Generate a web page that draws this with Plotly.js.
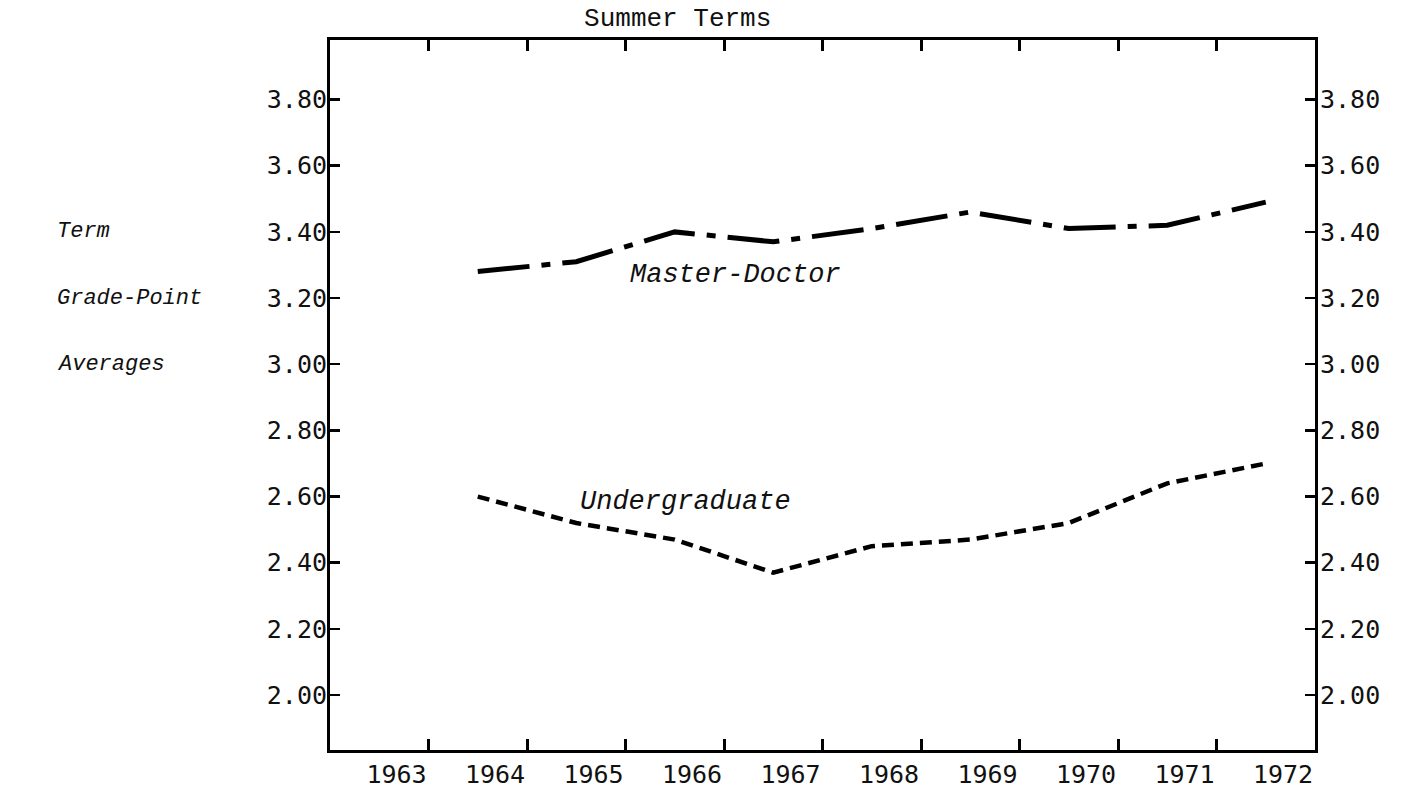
<!DOCTYPE html>
<html>
<head>
<meta charset="utf-8">
<script src="https://cdn.plot.ly/plotly-3.0.1.min.js"></script>
<style>
  html, body { margin: 0; padding: 0; background: #ffffff; }
  #chart { width: 1407px; height: 793px; }
</style>
</head>
<body>
<div id="chart"></div>
<script>
// ---- data ----
const years = [1964, 1965, 1966, 1967, 1968, 1969, 1970, 1971, 1972];
const masterDoctor = [3.28, 3.31, 3.40, 3.37, 3.41, 3.46, 3.41, 3.42, 3.49];
const undergraduate = [2.60, 2.52, 2.47, 2.37, 2.45, 2.47, 2.52, 2.64, 2.70];
const axisYears = [1963, 1964, 1965, 1966, 1967, 1968, 1969, 1970, 1971, 1972];
const yTicks = [2.00, 2.20, 2.40, 2.60, 2.80, 3.00, 3.20, 3.40, 3.60, 3.80];
const yTickLabels = ["2.00", "2.20", "2.40", "2.60", "2.80", "3.00", "3.20", "3.40", "3.60", "3.80"];
const chartTitle = "Summer Terms";
const yTitleLines = ["Term", "Grade-Point", "Averages"];
const seriesNames = ["Master-Doctor", "Undergraduate"];

// each year occupies the interval ending at its tick; points sit at interval centres
const xPos = years.map(y => y - 0.5);

const tickFont = { family: "DejaVu Sans Mono, Liberation Mono, monospace", size: 25, color: "#111" };
const italicFont = { family: "Liberation Mono, DejaVu Sans Mono, monospace", size: 27, color: "#111", style: "italic" };
const sideFont = { family: "Liberation Mono, DejaVu Sans Mono, monospace", size: 22, color: "#111", style: "italic" };

const traces = [
  {
    x: xPos, y: masterDoctor, name: seriesNames[0], type: "scatter", mode: "lines",
    line: { color: "#000", width: 5, dash: "52px,12px,9px,12px" },
    xaxis: "x", yaxis: "y", hoverinfo: "skip"
  },
  {
    x: xPos, y: undergraduate, name: seriesNames[1], type: "scatter", mode: "lines",
    line: { color: "#000", width: 4.5, dash: "12px,7px" },
    xaxis: "x", yaxis: "y", hoverinfo: "skip"
  }
];

const yRange = [1.834, 3.98];

const layout = {
  width: 1407, height: 793,
  margin: { l: 330, r: 92, t: 40, b: 43, pad: 0 },
  paper_bgcolor: "#ffffff", plot_bgcolor: "#ffffff",
  showlegend: false,
  title: {
    text: chartTitle,
    font: { family: "Liberation Mono, DejaVu Sans Mono, monospace", size: 26, color: "#111" },
    x: 0.353, xref: "paper", xanchor: "center",
    y: 0.979, yref: "container", yanchor: "middle"
  },
  xaxis: {
    range: [1962, 1972],
    tickmode: "array",
    tickvals: axisYears,
    ticktext: axisYears.map(String),
    ticklabelshift: -32,
    ticks: "inside", ticklen: 11, tickwidth: 3, tickcolor: "#000",
    showline: true, linecolor: "#000", linewidth: 3, mirror: "ticks",
    showgrid: false, zeroline: false,
    tickfont: tickFont,
    fixedrange: true
  },
  yaxis: {
    range: yRange,
    tickmode: "array", tickvals: yTicks, ticktext: yTickLabels,
    ticks: "inside", ticklen: 10, tickwidth: 2.5, tickcolor: "#000",
    showline: true, linecolor: "#000", linewidth: 3,
    showgrid: false, zeroline: false,
    tickfont: tickFont,
    ticklabelstandoff: -5,
    fixedrange: true
  },
  yaxis2: {
    overlaying: "y", side: "right", anchor: "x",
    range: yRange,
    tickmode: "array", tickvals: yTicks, ticktext: yTickLabels,
    ticks: "inside", ticklen: 10, tickwidth: 2.5, tickcolor: "#000",
    showline: true, linecolor: "#000", linewidth: 3,
    showgrid: false, zeroline: false,
    tickfont: tickFont,
    ticklabelstandoff: -3,
    fixedrange: true
  },
  annotations: [
    { x: 1966.12, y: 3.27, xref: "x", yref: "y", text: seriesNames[0], showarrow: false,
      font: italicFont, xanchor: "center", yanchor: "middle" },
    { x: 1965.61, y: 2.584, xref: "x", yref: "y", text: seriesNames[1], showarrow: false,
      font: italicFont, xanchor: "center", yanchor: "middle" },
    { x: -0.279, y: 3.40, xref: "paper", yref: "y", text: yTitleLines[0], showarrow: false,
      font: sideFont, xanchor: "left", yanchor: "middle" },
    { x: -0.279, y: 3.20, xref: "paper", yref: "y", text: yTitleLines[1], showarrow: false,
      font: sideFont, xanchor: "left", yanchor: "middle" },
    { x: -0.279, y: 3.00, xref: "paper", yref: "y", text: yTitleLines[2], showarrow: false,
      font: sideFont, xanchor: "left", yanchor: "middle" }
  ]
};

// invisible trace to activate the right-hand axis
traces.push({ x: [xPos[0]], y: [masterDoctor[0]], yaxis: "y2", xaxis: "x", mode: "markers",
  marker: { opacity: 0 }, hoverinfo: "skip", showlegend: false, type: "scatter" });

Plotly.newPlot("chart", traces, layout, { staticPlot: true, displayModeBar: false });
</script>
</body>
</html>
